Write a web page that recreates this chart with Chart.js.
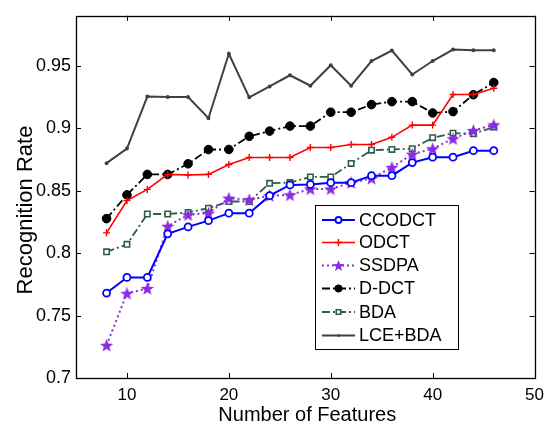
<!DOCTYPE html>
<html>
<head>
<meta charset="utf-8">
<script src="https://cdn.jsdelivr.net/npm/chart.js@4/dist/chart.umd.min.js"></script>
<style>
  html, body { margin: 0; padding: 0; background: #fff; }
  canvas { display: block; }
</style>
</head>
<body>
<canvas id="chart" width="551" height="423"></canvas>
<script>
// dados
const features = [8, 10, 12, 14, 16, 18, 20, 22, 24, 26, 28, 30, 32, 34, 36, 38, 40, 42, 44, 46];
const ccodct = [0.768, 0.7805, 0.7805, 0.8154, 0.821, 0.826, 0.832, 0.832, 0.846, 0.8546, 0.855, 0.8564, 0.8564, 0.862, 0.862, 0.8725, 0.8768, 0.8768, 0.882, 0.882];
const odct = [0.8162, 0.842, 0.851, 0.863, 0.8625, 0.863, 0.871, 0.8765, 0.8765, 0.8765, 0.8845, 0.8845, 0.887, 0.887, 0.8927, 0.9025, 0.9025, 0.927, 0.927, 0.932];
const ssdpa = [0.7262, 0.7678, 0.7717, 0.8215, 0.8307, 0.832, 0.844, 0.8427, 0.846, 0.8466, 0.8514, 0.8514, 0.8564, 0.8598, 0.8686, 0.8792, 0.8836, 0.8916, 0.8982, 0.9027];
const ddct = [0.8276, 0.8466, 0.863, 0.863, 0.8715, 0.8829, 0.883, 0.8935, 0.8977, 0.9017, 0.9017, 0.9128, 0.9128, 0.9189, 0.9213, 0.9213, 0.9122, 0.9133, 0.9268, 0.9366];
const bda = [0.801, 0.807, 0.8313, 0.8313, 0.8326, 0.836, 0.8413, 0.8413, 0.8559, 0.8565, 0.861, 0.861, 0.8718, 0.8824, 0.883, 0.8836, 0.8924, 0.896, 0.8956, 0.9009];
const lceBda = [0.872, 0.8837, 0.9253, 0.925, 0.925, 0.908, 0.9596, 0.9247, 0.9334, 0.9424, 0.934, 0.9504, 0.934, 0.9538, 0.9622, 0.943, 0.9538, 0.963, 0.9625, 0.9625];
const seriesNames = ['CCODCT', 'ODCT', 'SSDPA', 'D-DCT', 'BDA', 'LCE+BDA'];
const xTicks = [10, 20, 30, 40, 50];
const yTicks = [0.7, 0.75, 0.8, 0.85, 0.9, 0.95];
const xTitle = 'Number of Features';
const yTitle = 'Recognition Rate';

const FONT = 'Liberation Sans, Arial, sans-serif';
const purple = 'rgb(138, 43, 226)';

// estrela preenchida para SSDPA
function makeStar(color, size) {
    const c = document.createElement('canvas');
    c.width = size; c.height = size;
    const g = c.getContext('2d');
    const m = size / 2, ro = size / 2 - 0.5, ri = ro * 0.42;
    g.fillStyle = color;
    g.beginPath();
    for (let i = 0; i < 10; i++) {
        const r = i % 2 === 0 ? ro : ri;
        const a = -Math.PI / 2 + i * Math.PI / 5;
        const px = m + r * Math.cos(a), py = m + 0.6 + r * Math.sin(a);
        if (i === 0) g.moveTo(px, py); else g.lineTo(px, py);
    }
    g.closePath();
    g.fill();
    return c;
}
const starImg = makeStar(purple, 15);
const starSmall = makeStar(purple, 13);

function toPoints(arr) {
    return arr.map((v, i) => ({ x: features[i], y: v }));
}

const datasets = [
    { label: seriesNames[0], data: toPoints(ccodct), borderColor: '#0000ff', borderWidth: 2,
      pointStyle: 'circle', pointRadius: 3.5, pointBorderWidth: 1.8, pointBackgroundColor: '#fff', pointBorderColor: '#0000ff' },
    { label: seriesNames[1], data: toPoints(odct), borderColor: '#ff0000', borderWidth: 1.6,
      pointStyle: 'cross', pointRadius: 3.5, pointBorderWidth: 1.4, pointBorderColor: '#ff0000' },
    { label: seriesNames[2], data: toPoints(ssdpa), borderColor: purple, borderWidth: 2, borderDash: [2, 3],
      pointStyle: starImg, pointRadius: 7 },
    { label: seriesNames[3], data: toPoints(ddct), borderColor: '#000', borderWidth: 1.8, borderDash: [8, 3, 2, 3],
      pointStyle: 'circle', pointRadius: 4.3, pointBackgroundColor: '#000', pointBorderColor: '#000', pointBorderWidth: 1 },
    { label: seriesNames[4], data: toPoints(bda), borderColor: '#2e5e46', borderWidth: 1.8, borderDash: [8, 3, 2, 3],
      pointStyle: 'rect', pointRadius: 3.8, pointBorderWidth: 1.6, pointBackgroundColor: '#fff', pointBorderColor: '#2e5e46' },
    { label: seriesNames[5], data: toPoints(lceBda), borderColor: '#404040', borderWidth: 2,
      pointStyle: 'circle', pointRadius: 1, pointBackgroundColor: '#404040', pointBorderColor: '#404040' }
];

// moldura com marcas para dentro, estilo MATLAB, e títulos dos eixos
const framePlugin = {
    id: 'frame',
    afterDraw(chart) {
        const ctx = chart.ctx;
        const a = chart.chartArea;
        const xs = chart.scales.x, ys = chart.scales.y;
        ctx.save();
        ctx.strokeStyle = '#000';
        ctx.lineWidth = 1.3;
        ctx.setLineDash([]);
        ctx.strokeRect(Math.round(a.left) + 0.5, Math.round(a.top) + 0.5,
            Math.round(a.right - a.left), Math.round(a.bottom - a.top));
        ctx.lineWidth = 1;
        ctx.beginPath();
        xTicks.forEach(v => {
            const px = Math.round(xs.getPixelForValue(v)) + 0.5;
            ctx.moveTo(px, a.bottom); ctx.lineTo(px, a.bottom - 5);
            ctx.moveTo(px, a.top); ctx.lineTo(px, a.top + 5);
        });
        yTicks.forEach(v => {
            const py = Math.round(ys.getPixelForValue(v)) + 0.5;
            ctx.moveTo(a.left, py); ctx.lineTo(a.left + 5, py);
            ctx.moveTo(a.right, py); ctx.lineTo(a.right - 5, py);
        });
        ctx.stroke();

        // títulos
        ctx.fillStyle = '#000';
        ctx.textAlign = 'center';
        ctx.textBaseline = 'alphabetic';
        ctx.font = '20px ' + FONT;
        ctx.fillText(xTitle, (a.left + a.right) / 2 + 2, 421);
        ctx.save();
        ctx.translate(31.5, 210);
        ctx.rotate(-Math.PI / 2);
        ctx.font = '22px ' + FONT;
        ctx.fillText(yTitle, 0, 0);
        ctx.restore();
        ctx.restore();
    }
};

// legenda com linha + marcador
const legendPlugin = {
    id: 'matlabLegend',
    afterDraw(chart) {
        const ctx = chart.ctx;
        const box = { x: 315, y: 205, w: 143, h: 144 };
        const rows = [220, 242.5, 265.5, 288.5, 312, 335.5];
        const radii = [3, 3.5, 6.5, 3.6, 3.2, 1];
        ctx.save();
        ctx.fillStyle = '#fff';
        ctx.fillRect(box.x, box.y, box.w, box.h);
        ctx.strokeStyle = '#000';
        ctx.lineWidth = 1;
        ctx.strokeRect(box.x + 0.5, box.y + 0.5, box.w, box.h);
        chart.data.datasets.forEach((ds, i) => {
            const y = rows[i];
            ctx.strokeStyle = ds.borderColor;
            ctx.lineWidth = ds.borderWidth;
            ctx.setLineDash(ds.borderDash || []);
            ctx.beginPath();
            ctx.moveTo(322, y); ctx.lineTo(355, y);
            ctx.stroke();
            ctx.setLineDash([]);
            let style = ds.pointStyle;
            if (style instanceof HTMLCanvasElement) style = starSmall;
            ctx.fillStyle = ds.pointBackgroundColor || ds.borderColor;
            ctx.strokeStyle = ds.pointBorderColor || ds.borderColor;
            ctx.lineWidth = ds.pointBorderWidth || 1;
            Chart.helpers.drawPoint(ctx, { pointStyle: style, radius: radii[i], rotation: 0, borderWidth: ctx.lineWidth }, 338.5, y);
            ctx.fillStyle = '#000';
            ctx.font = '18px ' + FONT;
            ctx.textBaseline = 'middle';
            ctx.textAlign = 'left';
            ctx.fillText(ds.label, 359, y + 1);
        });
        ctx.restore();
    }
};

const ctx = document.getElementById('chart').getContext('2d');
const chart = new Chart(ctx, {
    type: 'line',
    data: { datasets: datasets },
    options: {
        responsive: false,
        animation: false,
        devicePixelRatio: 1,
        layout: { padding: { left: 0, top: 12, right: 9, bottom: 0 } },
        plugins: { legend: { display: false }, tooltip: { enabled: false } },
        elements: { line: { tension: 0, fill: false } },
        scales: {
            x: {
                type: 'linear', min: 5, max: 50,
                grid: { display: false, drawTicks: false },
                border: { display: false },
                afterBuildTicks: s => { s.ticks = xTicks.map(v => ({ value: v })); },
                afterFit: s => { s.height = 45; },
                ticks: { color: '#000', padding: 7, maxRotation: 0, font: { family: FONT, size: 17 } },
                title: { display: false }
            },
            y: {
                type: 'linear', min: 0.7, max: 0.99,
                grid: { display: false, drawTicks: false },
                border: { display: false },
                afterBuildTicks: s => { s.ticks = yTicks.map(v => ({ value: v })); },
                afterFit: s => { s.width = 76; },
                ticks: { color: '#000', padding: 5, font: { family: FONT, size: 18 }, callback: v => String(v) },
                title: { display: false }
            }
        }
    },
    plugins: [framePlugin, legendPlugin]
});
</script>
</body>
</html>
